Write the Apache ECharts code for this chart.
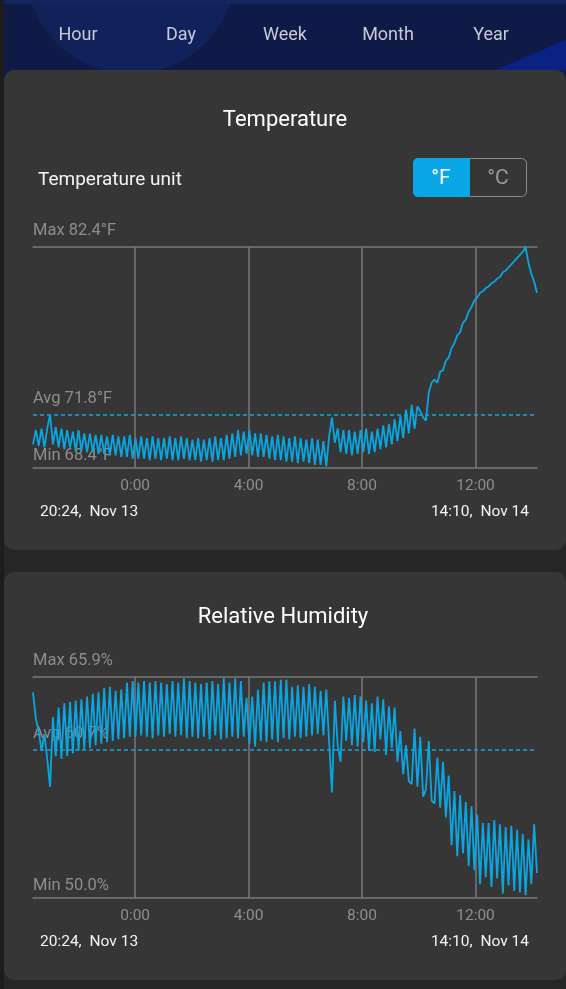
<!DOCTYPE html>
<html>
<head>
<meta charset="utf-8">
<script src="https://cdn.jsdelivr.net/npm/echarts@6/dist/echarts.min.js"></script>
<style>
  html, body { margin: 0; padding: 0; background: #212121; }
  #page { position: relative; width: 566px; height: 989px; overflow: hidden; background: #262626; }
  #strip { position: absolute; left: 0; top: 0; width: 4px; height: 989px; background: #1d1d1d; }
  #header { position: absolute; left: 4px; top: 0; width: 562px; height: 80px; background: #0f1a46; overflow: hidden; }
  #topband { position: absolute; left: 0; top: 0; width: 562px; height: 4px; background: #14245e; }
  #circle { position: absolute; left: 22px; top: -136px; width: 210px; height: 210px; border-radius: 50%; background: #11215a; }
  #tri { position: absolute; right: 0; top: 40px; width: 0; height: 0; border-left: 70px solid transparent; border-bottom: 30px solid #0b2285; }
  .card { position: absolute; left: 4px; width: 562px; background: #363636; border-radius: 10px; }
  #card1 { top: 70px; height: 480px; }
  #card2 { top: 572px; height: 408px; }
  #chart { position: absolute; left: 0; top: 0; width: 566px; height: 989px; }
</style>
</head>
<body>
<div id="page">
  <div id="strip"></div>
  <div id="header"><div id="circle"></div><div id="topband"></div><div id="tri"></div></div>
  <div class="card" id="card1"></div>
  <div class="card" id="card2"></div>
  <div id="chart"></div>
</div>
<script>
// ---- data ----
const tabs = ['Hour', 'Day', 'Week', 'Month', 'Year'];
const rangeLabels = ['20:24,\u2002Nov 13', '14:10,\u2002Nov 14'];
const spanMinutes = 1066; // 20:24 Nov 13 -> 14:10 Nov 14
const tickMinutes = [216, 456, 696, 936];
const tickLabels = ['0:00', '4:00', '8:00', '12:00'];
const tempMaxAvgMin = [82.4, 71.8, 68.4];
const humidityMaxAvgMin = [65.9, 60.7, 50.0];

const tempValues = [
  69.9,70.8,69.8,70.9,69.7,70.9,71.8,69.9,71.0,69.7,
  70.9,69.6,70.8,69.7,70.7,69.5,70.8,69.5,70.6,69.4,
  70.6,69.4,70.5,69.3,70.5,69.3,70.4,69.2,70.5,69.2,
  70.4,69.1,70.4,69.1,70.5,69.0,70.3,69.0,70.4,69.0,
  70.3,68.9,70.4,69.0,70.3,68.9,70.3,69.0,70.4,68.9,
  70.3,68.9,70.4,69.0,70.3,68.9,70.2,68.9,70.3,68.8,
  70.2,68.9,70.3,68.8,70.4,68.9,70.3,68.9,70.5,69.0,
  70.6,69.1,70.8,69.2,70.7,69.3,70.8,69.2,70.6,69.1,
  70.6,69.1,70.5,69.0,70.4,68.9,70.5,68.9,70.4,68.8,
  70.3,68.8,70.4,68.7,70.3,68.8,70.2,68.7,70.3,68.6,
  70.2,68.6,70.1,68.5,70.4,71.6,70.0,70.9,69.4,70.8,
  69.3,70.8,69.2,70.7,69.3,70.8,69.4,70.9,69.3,70.7,
  69.4,70.9,69.6,71.1,69.7,71.2,69.9,71.5,70.1,71.7,
  70.3,72.1,70.6,72.4,70.9,72.3,72.0,71.6,71.4,73.2,
  73.8,74.0,73.8,74.5,74.6,75.2,75.4,76.0,76.3,76.8,
  77.0,77.6,77.8,78.3,78.6,79.0,79.2,79.5,79.6,79.8,
  79.9,80.1,80.2,80.4,80.5,80.8,80.9,81.1,81.3,81.5,
  81.7,81.9,82.1,82.4,81.4,80.7,80.2,79.5
];

const humidityValues = [
  64.8,62.9,62.0,60.6,61.8,60.0,58.0,63.0,60.2,63.7,
  60.0,64.0,60.2,64.1,60.4,64.2,60.6,64.3,60.7,64.5,
  60.8,64.7,61.0,64.8,61.1,65.1,61.2,65.2,61.3,64.9,
  61.4,65.0,61.5,65.5,61.6,65.6,61.6,65.5,61.7,65.6,
  61.6,65.5,61.5,65.6,61.7,65.5,61.6,65.4,61.8,65.6,
  61.6,65.5,61.7,65.8,61.5,65.6,61.6,65.5,61.5,65.4,
  61.6,65.5,61.4,65.6,61.7,65.4,61.4,65.8,61.5,65.5,
  61.6,65.8,61.5,65.6,61.6,64.4,61.1,64.5,60.9,65.0,
  61.3,65.5,61.2,65.6,61.4,65.6,61.2,65.7,61.5,65.7,
  61.4,65.2,61.6,65.3,61.5,65.2,61.6,65.4,61.7,65.2,
  61.8,64.9,61.7,65.0,61.2,57.6,64.2,61.0,59.8,64.5,
  61.3,64.4,61.0,64.6,60.9,64.5,61.2,64.2,60.6,64.0,
  60.5,64.5,61.4,64.3,60.3,63.8,60.8,63.7,59.8,62.0,
  58.9,61.0,58.4,58.2,62.2,58.0,61.6,57.3,57.8,61.3,
  57.0,56.8,60.1,56.5,59.8,55.8,58.8,53.8,57.7,53.0,
  57.4,53.2,56.9,52.3,56.6,52.0,56.0,51.0,55.4,51.5,
  55.4,50.8,55.6,51.4,55.3,50.3,55.1,50.9,55.2,50.5,
  54.9,50.4,54.6,50.2,54.2,51.0,55.3,51.8
];

// ---- styles ----
const LINE = '#0aa6e2';
const GRIDC = '#787878';
const FONT = 'Roboto, "Noto Sans", sans-serif';

function toPairs(vals) {
  const step = spanMinutes / (vals.length - 1);
  return vals.map((v, i) => [i * step, v]);
}

function xAxes(gi) {
  return [{
    type: 'value', gridIndex: gi, min: 0, max: spanMinutes, position: 'bottom',
    axisLine: { show: true, lineStyle: { color: GRIDC, width: 1.5 } },
    axisTick: { show: false, customValues: tickMinutes },
    axisLabel: {
      customValues: tickMinutes, color: '#8e8e8e', fontSize: 15.5, fontFamily: FONT, margin: 10,
      formatter: v => { const k = tickMinutes.indexOf(Math.round(v)); return k >= 0 ? tickLabels[k] : ''; }
    },
    splitLine: { show: true, lineStyle: { color: GRIDC, width: 1.5 } }
  }, {
    type: 'value', gridIndex: gi, min: 0, max: spanMinutes, position: 'top',
    axisLine: { show: true, lineStyle: { color: GRIDC, width: 1.5 } },
    axisTick: { show: false }, axisLabel: { show: false }, splitLine: { show: false }
  }];
}

function yAxis(gi, stats) {
  return {
    type: 'value', gridIndex: gi, min: stats[2], max: stats[0], scale: true,
    axisLine: { show: false }, axisTick: { show: false }, axisLabel: { show: false }, splitLine: { show: false }
  };
}

function lineSeries(gi, vals, avg) {
  return {
    type: 'line', xAxisIndex: gi * 2, yAxisIndex: gi, data: toPairs(vals),
    showSymbol: false, symbol: 'none', z: 3,
    lineStyle: { color: LINE, width: 1.8 },
    markLine: {
      silent: true, symbol: ['none', 'none'], label: { show: false },
      lineStyle: { color: LINE, width: 1.5, type: [4, 3] },
      data: [{ yAxis: avg }]
    }
  };
}

function txt(text, x, y, size, color, align) {
  return { type: 'text', z: 1, style: { text, x, y, fill: color, fontSize: size, fontFamily: FONT, textAlign: align || 'left', textVerticalAlign: 'middle' } };
}

const tabX = [78, 181, 285, 388, 491];
const elements = [];
tabs.forEach((t, i) => elements.push(txt(t, tabX[i], 35, 18, '#c8cad6', 'center')));
elements.push(txt('Temperature', 285, 120, 22, '#ffffff', 'center'));
elements.push(txt('Temperature unit', 38, 180, 19, '#f4f4f4', 'left'));
elements.push({ type: 'rect', z: 1, shape: { x: 413.5, y: 158.5, width: 113, height: 38, r: 5 }, style: { fill: 'none', stroke: '#8a8a8a', lineWidth: 1 } });
elements.push({ type: 'rect', z: 1, shape: { x: 413, y: 158, width: 57, height: 39, r: [5, 0, 0, 5] }, style: { fill: '#0aa7e6' } });
elements.push(txt('°F', 441, 179, 21, '#ffffff', 'center'));
elements.push(txt('°C', 498, 179, 21, '#9a9a9a', 'center'));
elements.push(txt('Max ' + tempMaxAvgMin[0] + '°F', 33, 231, 16.5, '#8d8d8d'));
elements.push(txt('Avg ' + tempMaxAvgMin[1] + '°F', 33, 399, 16.5, '#8d8d8d'));
elements.push(txt('Min ' + tempMaxAvgMin[2] + '°F', 33, 456, 16.5, '#8d8d8d'));
elements.push(txt(rangeLabels[0], 40, 512, 15.5, '#f4f4f4', 'left'));
elements.push(txt(rangeLabels[1], 529, 512, 15.5, '#f4f4f4', 'right'));
elements.push(txt('Relative Humidity', 283, 617, 22, '#ffffff', 'center'));
elements.push(txt('Max ' + humidityMaxAvgMin[0].toFixed(1) + '%', 33, 661, 16.5, '#8d8d8d'));
elements.push(txt('Avg ' + humidityMaxAvgMin[1].toFixed(1) + '%', 33, 734, 16.5, '#8d8d8d'));
elements.push(txt('Min ' + humidityMaxAvgMin[2].toFixed(1) + '%', 33, 886, 16.5, '#8d8d8d'));
elements.push(txt(rangeLabels[0], 40, 942, 15.5, '#f4f4f4', 'left'));
elements.push(txt(rangeLabels[1], 529, 942, 15.5, '#f4f4f4', 'right'));

const chart = echarts.init(document.getElementById('chart'), null, { renderer: 'canvas' });
chart.setOption({
  backgroundColor: 'transparent',
  animation: false,
  textStyle: { fontFamily: FONT },
  grid: [
    { left: 33, width: 504, top: 247, height: 221 },
    { left: 33, width: 504, top: 677, height: 221 }
  ],
  xAxis: xAxes(0).concat(xAxes(1)),
  yAxis: [yAxis(0, tempMaxAvgMin), yAxis(1, humidityMaxAvgMin)],
  graphic: { elements },
  series: [
    lineSeries(0, tempValues, tempMaxAvgMin[1]),
    lineSeries(1, humidityValues, humidityMaxAvgMin[1])
  ]
});
</script>
</body>
</html>
